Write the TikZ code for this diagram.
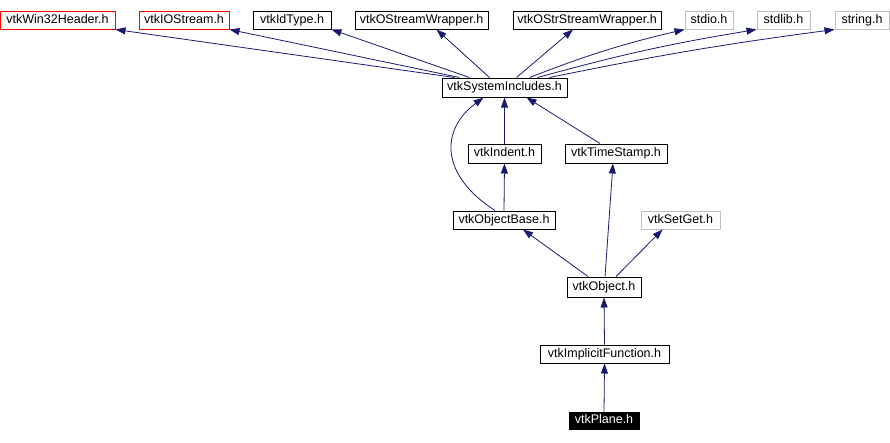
\documentclass[tikz,border=0pt]{standalone}
\usepackage{fontspec}
\setmainfont{Liberation Sans}
\usetikzlibrary{arrows.meta}
\definecolor{edgeblue}{RGB}{25,25,112}
\definecolor{sysgrey}{RGB}{191,191,191}
\begin{document}
\begin{tikzpicture}[x=1pt,y=-1pt,
  hbox/.style={draw,line width=1pt,minimum height=18pt,inner sep=0pt,
    text height=9pt,text depth=2.5pt,font=\fontsize{12.5}{14}\selectfont},
  redbox/.style={hbox,draw=red},
  greybox/.style={hbox,draw=sysgrey},
  dep/.style={draw=edgeblue,line width=.8pt,-{Triangle[length=10pt,width=7pt]}}]
  \useasboundingbox (0,0) rectangle (890,442);
  \node[redbox,minimum width=115pt] (win) at (57.5,20) {vtkWin32Header.h};
  \node[redbox,minimum width=90pt] (ios) at (184,20) {vtkIOStream.h};
  \node[hbox,minimum width=78pt] (idt) at (292,20) {vtkIdType.h};
  \node[hbox,minimum width=133pt] (osw) at (421.5,20) {vtkOStreamWrapper.h};
  \node[hbox,minimum width=148pt] (ossw) at (587,20) {vtkOStrStreamWrapper.h};
  \node[greybox,minimum width=48pt] (stdio) at (709,20) {stdio.h};
  \node[greybox,minimum width=53pt] (stdlib) at (783.5,20) {stdlib.h};
  \node[greybox,minimum width=54pt] (string) at (862,20) {string.h};
  \node[hbox,minimum width=125pt,minimum height=19pt] (sys) at (504.5,87.5) {vtkSystemIncludes.h};
  \node[hbox,minimum width=73pt,minimum height=19pt] (indent) at (504.5,153.5) {vtkIndent.h};
  \node[hbox,minimum width=102pt,minimum height=19pt] (tstamp) at (616,153.5) {vtkTimeStamp.h};
  \node[hbox,minimum width=102pt] (obase) at (504,220) {vtkObjectBase.h};
  \node[greybox,minimum width=79pt] (setget) at (680.5,220) {vtkSetGet.h};
  \node[hbox,minimum width=74pt,minimum height=20pt] (object) at (604,287) {vtkObject.h};
  \node[hbox,minimum width=129pt] (impl) at (604.5,354) {vtkImplicitFunction.h};
  \node[hbox,fill=black,text=white,minimum width=70pt,minimum height=17pt] (plane) at (604,420.5) {vtkPlane.h};
  \draw[dep] ([xshift=-50pt]sys.north) -- (win.south east);
  \draw[dep] ([xshift=-45pt]sys.north) -- (ios.south east);
  \draw[dep] ([xshift=-35pt]sys.north) -- (idt.south east);
  \draw[dep] ([xshift=-15pt]sys.north) -- ([xshift=15pt]osw.south);
  \draw[dep] ([xshift=12pt]sys.north) -- ([xshift=-14pt]ossw.south);
  \draw[dep] ([xshift=25pt]sys.north) to[bend left=4] (stdio.south west);
  \draw[dep] ([xshift=33pt]sys.north) to[bend left=3] (stdlib.south west);
  \draw[dep] ([xshift=45pt]sys.north) to[bend left=2] (string.south west);
  \draw[dep] (indent.north) -- (sys.south);
  \draw[dep] ([xshift=-16pt]tstamp.north) -- ([xshift=22pt]sys.south);
  \draw[dep] ([xshift=-9pt]obase.north) .. controls (440,175) and (440,130) .. ([xshift=-21pt]sys.south);
  \draw[dep] (obase.north) -- (indent.south);
  \draw[dep] ([xshift=-16pt]object.north) -- ([xshift=19pt]obase.south);
  \draw[dep] ([xshift=1pt]object.north) -- ([xshift=-3pt]tstamp.south);
  \draw[dep] ([xshift=12pt]object.north) -- ([xshift=-18pt]setget.south);
  \draw[dep] (impl.north) -- (object.south);
  \draw[dep] (plane.north) -- (impl.south);
\end{tikzpicture}
\end{document}
